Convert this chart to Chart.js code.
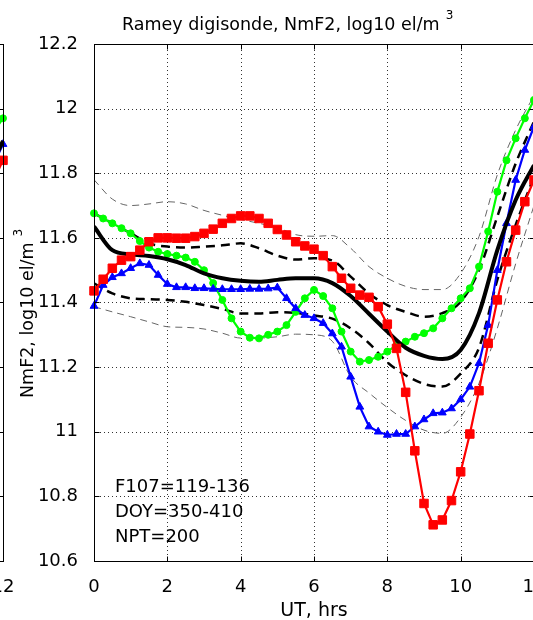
<!DOCTYPE html>
<html>
<head>
<meta charset="utf-8">
<script src="https://cdn.jsdelivr.net/npm/chart.js@4.4.0/dist/chart.umd.min.js"></script>
<style>
  html, body { margin: 0; padding: 0; background: #fff; overflow: hidden; width: 533px; height: 620px; }
  .panel { position: absolute; top: 0; }
</style>
</head>
<body>
<canvas id="leftPanel" class="panel" width="560" height="620" style="left:-531px"></canvas>
<canvas id="mainPanel" class="panel" width="560" height="620" style="left:0"></canvas>
<script>
// UT hours, quarter-hour samples (station data) and half-hour samples (model curves)
const hoursQ = [0, 0.25, 0.5, 0.75, 1, 1.25, 1.5, 1.75, 2, 2.25, 2.5, 2.75, 3, 3.25, 3.5, 3.75,
  4, 4.25, 4.5, 4.75, 5, 5.25, 5.5, 5.75, 6, 6.25, 6.5, 6.75, 7, 7.25, 7.5, 7.75,
  8, 8.25, 8.5, 8.75, 9, 9.25, 9.5, 9.75, 10, 10.25, 10.5, 10.75, 11, 11.25, 11.5, 11.75, 12];
const hoursH = [0, 0.5, 1, 1.5, 2, 2.5, 3, 3.5, 4, 4.5, 5, 5.5, 6, 6.5, 7, 7.5,
  8, 8.5, 9, 9.5, 10, 10.5, 11, 11.5, 12];

// colored curves (markers)
const greenVals = [11.676, 11.66, 11.645, 11.63, 11.614, 11.59, 11.57, 11.557, 11.55, 11.545, 11.539, 11.526,
  11.50, 11.46, 11.408, 11.351, 11.31, 11.291, 11.289, 11.30, 11.31, 11.33, 11.371, 11.413,
  11.439, 11.42, 11.382, 11.31, 11.248, 11.217, 11.222, 11.232, 11.248, 11.268, 11.279, 11.294,
  11.305, 11.32, 11.351, 11.382, 11.413, 11.444, 11.511, 11.62, 11.743, 11.84, 11.908, 11.97, 12.027];
const redVals = [11.436, 11.472, 11.506, 11.531, 11.542, 11.562, 11.588, 11.6, 11.6, 11.599, 11.599, 11.604,
  11.614, 11.627, 11.645, 11.66, 11.668, 11.668, 11.66, 11.645, 11.626, 11.609, 11.588, 11.575,
  11.565, 11.545, 11.511, 11.475, 11.444, 11.423, 11.416, 11.387, 11.333, 11.258, 11.122, 10.941,
  10.778, 10.712, 10.727, 10.787, 10.876, 10.993, 11.127, 11.274, 11.408, 11.526, 11.624, 11.712, 11.779];
const blueVals = [11.389, 11.454, 11.478, 11.49, 11.506, 11.521, 11.516, 11.485, 11.457, 11.447, 11.447, 11.444,
  11.444, 11.442, 11.441, 11.441, 11.441, 11.442, 11.442, 11.443, 11.446, 11.413, 11.382, 11.361,
  11.351, 11.336, 11.304, 11.263, 11.17, 11.077, 11.016, 11.0, 10.99, 10.993, 10.993, 11.016,
  11.038, 11.057, 11.059, 11.072, 11.1, 11.139, 11.212, 11.33, 11.5, 11.645, 11.779, 11.872, 11.944];

// model: mean, +/- 1 sigma (black dashed), +/- 2 sigma (thin gray dashed)
const meanVals = [11.635, 11.562, 11.549, 11.544, 11.534, 11.516, 11.49, 11.475, 11.467, 11.464, 11.47, 11.475,
  11.475, 11.46, 11.42, 11.365, 11.31, 11.26, 11.235, 11.225, 11.253, 11.367, 11.562, 11.717, 11.825];
const upper1 = [11.676, 11.645, 11.614, 11.583, 11.573, 11.57, 11.573, 11.577, 11.583, 11.568, 11.545, 11.533,
  11.537, 11.53, 11.48, 11.428, 11.392, 11.371, 11.356, 11.367, 11.402, 11.5, 11.666, 11.83, 11.96];
const lower1 = [11.459, 11.428, 11.413, 11.41, 11.408, 11.402, 11.392, 11.38, 11.366, 11.366, 11.37, 11.368,
  11.36, 11.35, 11.32, 11.274, 11.215, 11.175, 11.148, 11.14, 11.18, 11.26, 11.47, 11.64, 11.79];
const upper2 = [11.78, 11.72, 11.70, 11.705, 11.712, 11.705, 11.685, 11.67, 11.657, 11.645, 11.632, 11.61,
  11.605, 11.607, 11.568, 11.511, 11.475, 11.45, 11.44, 11.44, 11.49, 11.604, 11.795, 11.934, 12.04];
const lower2 = [11.387, 11.371, 11.356, 11.34, 11.325, 11.323, 11.318, 11.305, 11.29, 11.29, 11.294, 11.302,
  11.30, 11.28, 11.17, 11.12, 11.075, 11.035, 11.005, 10.995, 11.045, 11.15, 11.32, 11.52, 11.70];

// the neighbouring panel, only its right edge is visible
const leftHours = [11.75, 12];
const leftGreen = [11.93, 11.97];
const leftBlue = [11.83, 11.89];
const leftRed = [11.78, 11.84];
const leftMean = [11.84, 11.9];

const infoLines = ["F107=119-136", "DOY=350-410", "NPT=200"];
const xTicks = [0, 2, 4, 6, 8, 10, 12];
const yTicks = [10.6, 10.8, 11, 11.2, 11.4, 11.6, 11.8, 12, 12.2];

const FONT = "'DejaVu Sans', sans-serif";

const pts = (xs, ys) => xs.map((x, i) => ({ x: x, y: ys[i] }));

const markerSet = (label, xs, ys, color, style, r, order) => ({
  label: label,
  data: pts(xs, ys),
  borderColor: color,
  backgroundColor: color,
  borderWidth: 2.2,
  pointStyle: style,
  pointRadius: r,
  pointBorderWidth: 1,
  tension: 0,
  clip: false,
  order: order,
});

const modelSet = (label, xs, ys, color, width, dash, order) => ({
  label: label,
  data: pts(xs, ys),
  borderColor: color,
  borderWidth: width,
  borderDash: dash,
  pointRadius: 0,
  cubicInterpolationMode: "monotone",
  order: order,
});

// dotted grid, box round the axes and inward tick marks, like matlab
const framePlugin = {
  id: "frame",
  beforeDatasetsDraw(chart) {
    const { ctx, chartArea: a, scales } = chart;
    ctx.save();
    ctx.fillStyle = "#333";
    yTicks.forEach((v) => {
      const yy = Math.round(scales.y.getPixelForValue(v));
      for (let xx = Math.round(a.left) + 2; xx < a.right; xx += 4) ctx.fillRect(xx, yy, 1, 1);
    });
    xTicks.forEach((v) => {
      const xx = Math.round(scales.x.getPixelForValue(v));
      for (let yy = Math.round(a.top) + 2; yy < a.bottom; yy += 4) ctx.fillRect(xx, yy, 1, 1);
    });
    ctx.restore();
  },
  afterDraw(chart) {
    const { ctx, chartArea: a, scales } = chart;
    const L = Math.round(a.left) + 0.5, R = Math.round(a.right) + 0.5;
    const T = Math.round(a.top) + 0.5, B = Math.round(a.bottom) + 0.5;
    ctx.save();
    ctx.strokeStyle = "#000";
    ctx.lineWidth = 1;
    ctx.setLineDash([]);
    ctx.strokeRect(L, T, R - L, B - T);
    ctx.beginPath();
    yTicks.forEach((v) => {
      const yy = Math.round(scales.y.getPixelForValue(v)) + 0.5;
      ctx.moveTo(L, yy); ctx.lineTo(L + 5, yy);
      ctx.moveTo(R, yy); ctx.lineTo(R - 5, yy);
    });
    xTicks.forEach((v) => {
      const xx = Math.round(scales.x.getPixelForValue(v)) + 0.5;
      ctx.moveTo(xx, B); ctx.lineTo(xx, B - 5);
      ctx.moveTo(xx, T); ctx.lineTo(xx, T + 5);
    });
    ctx.stroke();
    ctx.restore();
  },
};

// title, axis labels with superscripts, info text
const textPlugin = {
  id: "texts",
  afterDraw(chart) {
    const { ctx, chartArea: a } = chart;
    ctx.save();
    ctx.fillStyle = "#000";
    ctx.textBaseline = "alphabetic";
    ctx.textAlign = "left";

    ctx.font = "17.5px " + FONT;
    const title = "Ramey digisonde, NmF2, log10 el/m";
    ctx.fillText(title, 122, 30);
    const tw = ctx.measureText(title).width;
    ctx.font = "12px " + FONT;
    ctx.fillText("3", 122 + tw + 6, 19);

    ctx.font = "19px " + FONT;
    ctx.textAlign = "center";
    ctx.fillText("UT, hrs", (a.left + a.right) / 2, 616);

    ctx.save();
    ctx.translate(33, 398);
    ctx.rotate(-Math.PI / 2);
    ctx.textAlign = "left";
    ctx.font = "17.5px " + FONT;
    const yl = "NmF2, log10 el/m";
    ctx.fillText(yl, 0, 0);
    const yw = ctx.measureText(yl).width;
    ctx.font = "12px " + FONT;
    ctx.fillText("3", yw + 6, -11);
    ctx.restore();

    ctx.font = "18px " + FONT;
    ctx.textAlign = "left";
    infoLines.forEach((s, i) => ctx.fillText(s, 115, 492 + i * 25));
    ctx.restore();
  },
};

const makeOptions = () => ({
  responsive: false,
  animation: false,
  layout: { padding: { left: 0, top: 44, right: 26, bottom: 0 } },
  scales: {
    x: {
      type: "linear",
      min: 0,
      max: 12,
      afterFit: (s) => { s.height = 59; },
      afterBuildTicks: (s) => { s.ticks = xTicks.map((v) => ({ value: v })); },
      ticks: { color: "#000", padding: 8, font: { family: FONT, size: 18 } },
      grid: { display: false },
      border: { display: false },
    },
    y: {
      type: "linear",
      min: 10.6,
      max: 12.2,
      afterFit: (s) => { s.width = 94; },
      afterBuildTicks: (s) => { s.ticks = yTicks.map((v) => ({ value: v })); },
      ticks: {
        color: "#000",
        padding: 8,
        font: { family: FONT, size: 18 },
        callback: (v) => String(Number(v.toFixed(1))),
      },
      grid: { display: false },
      border: { display: false },
    },
  },
  plugins: {
    legend: { display: false },
    tooltip: { enabled: false },
    title: { display: false },
  },
});

new Chart(document.getElementById("leftPanel").getContext("2d"), {
  type: "line",
  data: {
    datasets: [
      markerSet("red", leftHours, leftRed, "#ff0000", "rect", 6, 1),
      modelSet("mean", leftHours, leftMean, "#000", 4, [], 2),
      markerSet("blue", leftHours, leftBlue, "#0000ff", "triangle", 4.5, 3),
      markerSet("green", leftHours, leftGreen, "#00ff00", "circle", 3.5, 4),
    ],
  },
  options: makeOptions(),
  plugins: [framePlugin],
});

new Chart(document.getElementById("mainPanel").getContext("2d"), {
  type: "line",
  data: {
    datasets: [
      markerSet("red", hoursQ, redVals, "#ff0000", "rect", 6, 1),
      modelSet("mean", hoursH, meanVals, "#000", 4, [], 2),
      markerSet("blue", hoursQ, blueVals, "#0000ff", "triangle", 4.5, 3),
      markerSet("green", hoursQ, greenVals, "#00ff00", "circle", 3.5, 4),
      modelSet("+1 sigma", hoursH, upper1, "#000", 2.5, [9, 6], 5),
      modelSet("-1 sigma", hoursH, lower1, "#000", 2.5, [9, 6], 6),
      modelSet("+2 sigma", hoursH, upper2, "#666", 1, [7, 5], 7),
      modelSet("-2 sigma", hoursH, lower2, "#666", 1, [7, 5], 8),
    ],
  },
  options: makeOptions(),
  plugins: [framePlugin, textPlugin],
});
</script>
</body>
</html>
